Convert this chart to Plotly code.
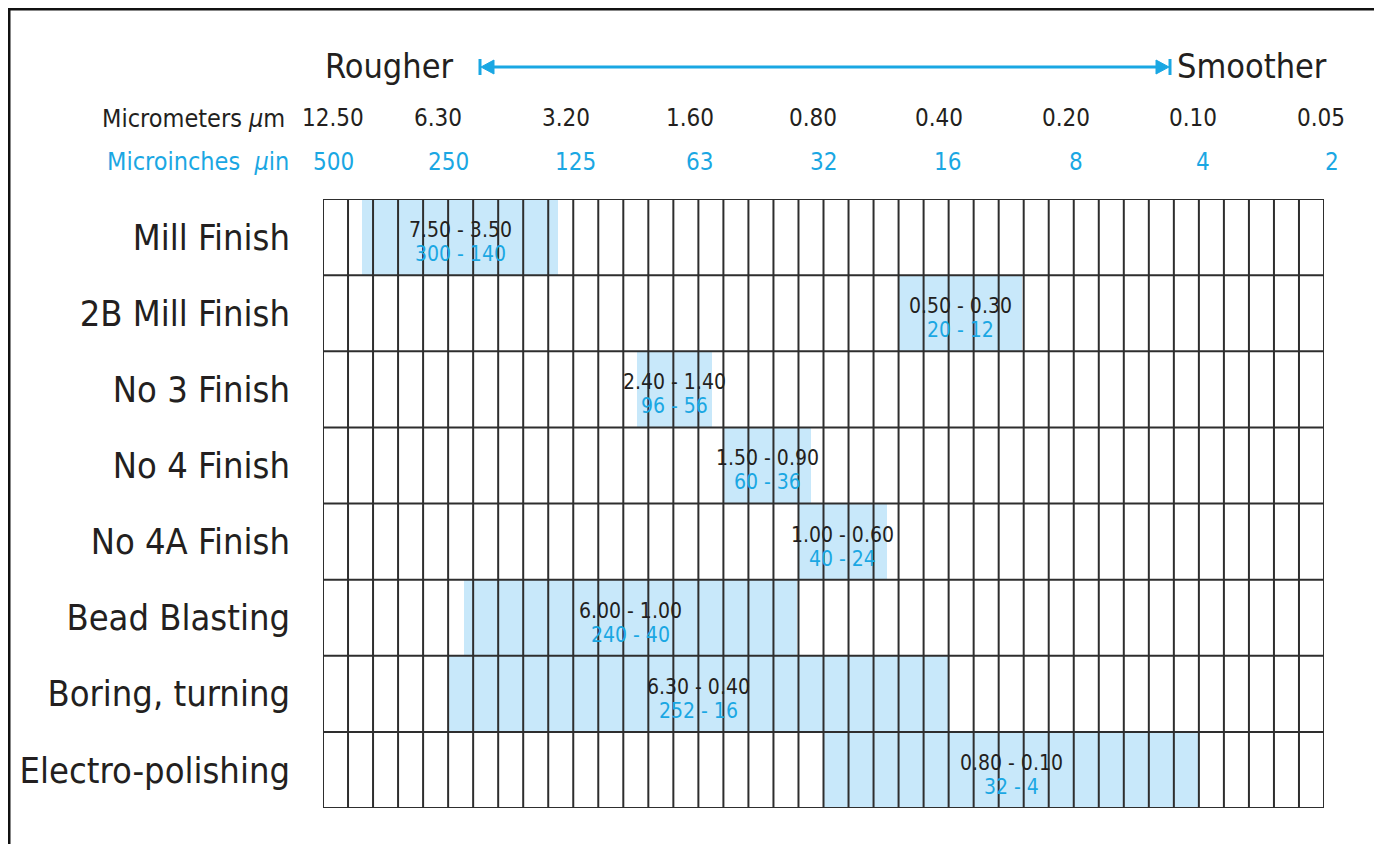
import plotly.graph_objects as go

# ---------------- data ----------------
finishes = ["Mill Finish", "2B Mill Finish", "No 3 Finish", "No 4 Finish",
            "No 4A Finish", "Bead Blasting", "Boring, turning", "Electro-polishing"]
# bar extents, in grid-column units (40 columns)
bar_start = [1.55, 23.0, 12.55, 16.0, 19.0, 5.65, 5.0, 20.0]
bar_end = [9.4, 27.95, 15.55, 19.5, 22.55, 18.95, 25.0, 35.0]
um_hi = ["7.50", "0.50", "2.40", "1.50", "1.00", "6.00", "6.30", "0.80"]
um_lo = ["3.50", "0.30", "1.40", "0.90", "0.60", "1.00", "0.40", "0.10"]
uin_hi = ["300", "20", "96", "60", "40", "240", "252", "32"]
uin_lo = ["140", "12", "56", "36", "24", "40", "16", "4"]

um_ticks = ["12.50", "6.30", "3.20", "1.60", "0.80", "0.40", "0.20", "0.10", "0.05"]
um_tick_pos = [0.4, 4.6, 9.7, 14.65, 19.6, 24.6, 29.7, 34.75, 39.9]
uin_ticks = ["500", "250", "125", "63", "32", "16", "8", "4", "2"]
uin_tick_pos = [0.4, 5.0, 10.1, 15.05, 20.0, 24.95, 30.1, 35.15, 40.3]

n_cols = 40
# --------------------------------------

OFF = 8                      # page body margin
W, H = 1382 - OFF, 844 - OFF
ML = 323 - OFF
MT = 199 - OFF
MR = W - (1324 - OFF)
MB = H - (808 - OFF)
PW, PH = W - ML - MR, H - MT - MB

FONT = "DejaVu Sans Condensed, Liberation Sans Narrow, Roboto Condensed, sans-serif"
BLACK = "#231f20"
BLUE = "#1aa7e3"
BARC = "#c8e8fa"
LINE = "#2e2e2e"


def px(x):
    """screen x -> paper x"""
    return (x - OFF - ML) / PW


def py(y):
    """screen y -> paper y"""
    return (H - MB - (y - OFF)) / PH


def colx(c):
    """grid-column units -> paper x (same linear scale as the x axis)"""
    return c / n_cols


rows = list(range(len(finishes)))
centers = [r + 0.5 for r in rows]

fig = go.Figure()
fig.add_trace(go.Bar(
    y=centers,
    x=[e - s for s, e in zip(bar_start, bar_end)],
    base=bar_start,
    orientation="h",
    width=1.0,
    marker=dict(color=BARC, line=dict(width=0)),
    hoverinfo="skip",
    showlegend=False,
))

shapes = []
# grid on top of bars
for c in range(n_cols + 1):
    shapes.append(dict(type="line", xref="x", yref="paper", x0=c, x1=c, y0=0, y1=1,
                       line=dict(color=LINE, width=2), layer="above"))
for r in range(len(finishes) + 1):
    shapes.append(dict(type="line", xref="paper", yref="y", x0=0, x1=1, y0=r, y1=r,
                       line=dict(color=LINE, width=2), layer="above"))

# outer frame
shapes.append(dict(type="rect", xref="paper", yref="paper",
                   x0=px(9), x1=px(1379), y0=py(870), y1=py(9),
                   line=dict(color="#111111", width=3), layer="above"))

# Rougher <-> Smoother arrow
ay = 67
shapes.append(dict(type="line", xref="paper", yref="paper", x0=px(488), x1=px(1160),
                   y0=py(ay), y1=py(ay), line=dict(color=BLUE, width=3)))
shapes.append(dict(type="path", xref="paper", yref="paper",
                   path=f"M {px(481)} {py(ay)} L {px(494)} {py(ay-7)} L {px(494)} {py(ay+7)} Z",
                   fillcolor=BLUE, line=dict(color=BLUE, width=1)))
shapes.append(dict(type="path", xref="paper", yref="paper",
                   path=f"M {px(1169)} {py(ay)} L {px(1156)} {py(ay-7)} L {px(1156)} {py(ay+7)} Z",
                   fillcolor=BLUE, line=dict(color=BLUE, width=1)))
shapes.append(dict(type="line", xref="paper", yref="paper", x0=px(480), x1=px(480),
                   y0=py(59), y1=py(75), line=dict(color=BLUE, width=3)))
shapes.append(dict(type="line", xref="paper", yref="paper", x0=px(1170), x1=px(1170),
                   y0=py(59), y1=py(75), line=dict(color=BLUE, width=3)))

ann = []
ann.append(dict(text="Rougher", xref="paper", yref="paper", x=px(455), y=py(66),
                xanchor="right", yanchor="middle", showarrow=False,
                font=dict(family=FONT, size=34, color=BLACK)))
ann.append(dict(text="Smoother", xref="paper", yref="paper", x=px(1175), y=py(66),
                xanchor="left", yanchor="middle", showarrow=False,
                font=dict(family=FONT, size=34, color=BLACK)))
ann.append(dict(text="Micrometers <i>µ</i>m", xref="paper", yref="paper", x=px(287), y=py(118),
                xanchor="right", yanchor="middle", showarrow=False,
                font=dict(family=FONT, size=25, color=BLACK)))
ann.append(dict(text="Microinches  <i>µ</i>in", xref="paper", yref="paper", x=px(291), y=py(162),
                xanchor="right", yanchor="middle", showarrow=False,
                font=dict(family=FONT, size=25, color=BLUE)))
for t, p in zip(um_ticks, um_tick_pos):
    ann.append(dict(text=t, xref="paper", yref="paper", x=colx(p), y=py(118), xanchor="center",
                    yanchor="middle", showarrow=False,
                    font=dict(family=FONT, size=24, color=BLACK)))
for t, p in zip(uin_ticks, uin_tick_pos):
    ann.append(dict(text=t, xref="paper", yref="paper", x=colx(p), y=py(162), xanchor="center",
                    yanchor="middle", showarrow=False,
                    font=dict(family=FONT, size=24, color=BLUE)))

for i in rows:
    mid = (bar_start[i] + bar_end[i]) / 2
    ann.append(dict(text=f"{um_hi[i]} - {um_lo[i]}", xref="x", yref="y", x=mid, y=centers[i],
                    yshift=7, xanchor="center", yanchor="middle", showarrow=False,
                    font=dict(family=FONT, size=21, color=BLACK)))
    ann.append(dict(text=f"{uin_hi[i]} - {uin_lo[i]}", xref="x", yref="y", x=mid, y=centers[i],
                    yshift=-17, xanchor="center", yanchor="middle", showarrow=False,
                    font=dict(family=FONT, size=21, color=BLUE)))

fig.update_layout(
    width=W, height=H, autosize=False,
    margin=dict(l=ML, r=MR, t=MT, b=MB, pad=0, autoexpand=False),
    paper_bgcolor="white", plot_bgcolor="white",
    bargap=0,
    shapes=shapes,
    annotations=ann,
    xaxis=dict(range=[0, n_cols], showgrid=False, zeroline=False, showticklabels=False,
               showline=False, ticks="", fixedrange=True, automargin=False),
    yaxis=dict(range=[len(finishes), 0], showgrid=False, zeroline=False, showline=False,
               tickmode="array", tickvals=centers, ticktext=finishes, ticks="",
               ticklabelstandoff=32, fixedrange=True, automargin=False,
               tickfont=dict(family=FONT, size=36, color=BLACK)),
    showlegend=False,
)

fig.write_html("out.html", config={"displayModeBar": False})
